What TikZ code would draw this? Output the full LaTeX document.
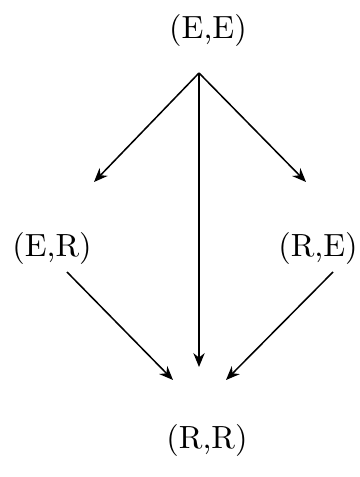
\documentclass[tikz,border=0pt]{standalone}
\usetikzlibrary{arrows.meta}
\begin{document}
\begin{tikzpicture}[x=0.0115cm, y=-0.0115cm,
    trans/.style={->, >={Stealth[length=1.6mm, width=1.3mm]}, line width=0.5pt},
    etat/.style={font=\fontsize{10.5}{12}\selectfont}]
    \useasboundingbox (0,0) rectangle (360,477);
    % Etats
    \node[etat] (ee) at (208,30) {(E,E)};
    \node[etat] (er) at (52,248) {(E,R)};
    \node[etat] (re) at (318,248) {(R,E)};
    \node[etat] (rr) at (207,440) {(R,R)};

    % Extremites des fleches
    \coordinate (top) at (199,73);
    \coordinate (l) at (94,182);
    \coordinate (r) at (306,182);
    \coordinate (mid) at (199,367);
    \coordinate (erstart) at (67,272);
    \coordinate (restart) at (333,272);
    \coordinate (bl) at (173,380);
    \coordinate (br) at (226,380);

    % Transitions
    \draw[trans] (top) -- (l);
    \draw[trans] (top) -- (r);
    \draw[trans] (top) -- (mid);
    \draw[trans] (erstart) -- (bl);
    \draw[trans] (restart) -- (br);
\end{tikzpicture}
\end{document}
